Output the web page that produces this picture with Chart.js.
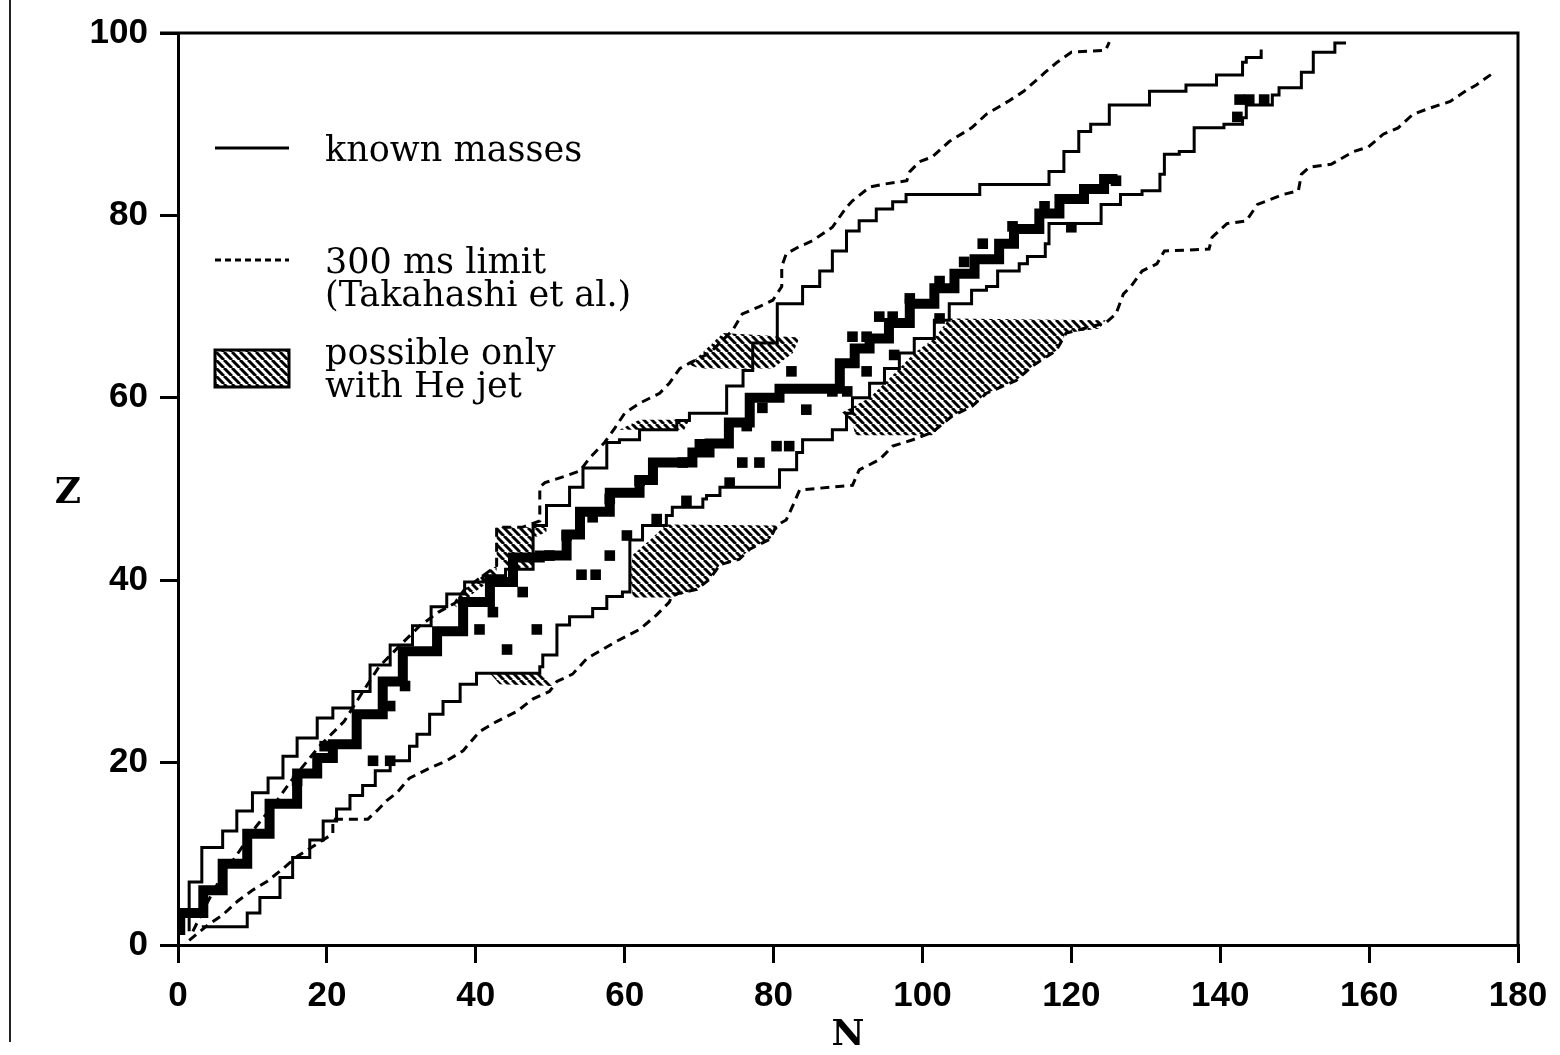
<!DOCTYPE html>
<html>
<head>
<meta charset="utf-8">
<title>Known masses, N vs Z</title>
<script src="https://cdn.jsdelivr.net/npm/chart.js@4.4.1/dist/chart.umd.min.js"></script>
<style>
  html, body { margin: 0; padding: 0; background: #fff; }
  #wrap { position: relative; width: 1560px; height: 1055px; }
  #edge { position: absolute; left: 9px; top: 0; width: 0; height: 1042px; border-left: 2px solid #222; }
  canvas { position: absolute; left: 0; top: 0; }
</style>
</head>
<body>
<div id="wrap">
  <div id="edge"></div>
  <canvas id="massChart" width="1560" height="1055"></canvas>
</div>
<script>
// Axis ticks
const nTicks = [0, 20, 40, 60, 80, 100, 120, 140, 160, 180];
const zTicks = [0, 20, 40, 60, 80, 100];

// Known masses, proton-rich side (solid)
const knownUpperN = [1.5, 3.2, 6.0, 7.9, 10.0, 12.1, 14.1, 16.0, 18.7, 20.8, 23.5, 25.8, 28.5, 31.5, 34.0, 36.1, 38.5, 41.0, 44.0, 47.7, 47.7, 49.5, 52.6, 54.4, 57.6, 59.3, 62.0, 67.0, 68.7, 73.7, 75.9, 77.2, 80.5, 83.9, 86.2, 87.9, 89.8, 91.5, 93.8, 96.0, 97.8, 107.7, 117.0, 119.0, 121.0, 122.6, 125.1, 125.1, 130.5, 135.4, 139.5, 139.5, 143.0, 143.5, 145.5, 145.5];
const knownUpperZ = [1.5, 6.9, 10.7, 12.5, 14.7, 16.7, 18.3, 20.7, 22.7, 24.9, 26.0, 27.8, 30.7, 32.9, 35.0, 37.1, 38.5, 39.8, 40.5, 41.2, 44.2, 46.0, 48.2, 50.2, 52.3, 55.1, 55.4, 56.5, 57.5, 58.3, 61.3, 63.0, 66.0, 70.3, 72.2, 73.9, 76.1, 78.3, 79.4, 80.7, 81.5, 82.3, 83.4, 84.8, 87.0, 89.2, 90.0, 91.1, 92.1, 93.6, 94.3, 95.2, 95.4, 96.8, 97.3, 98.2];

// Known masses, neutron-rich side (solid)
const knownLowerN = [3.4, 9.3, 11.0, 13.7, 15.4, 17.7, 19.5, 21.3, 23.1, 24.8, 26.5, 28.5, 31.1, 32.1, 33.8, 35.6, 37.9, 40.1, 41.9, 48.6, 49.0, 50.9, 50.9, 52.6, 55.7, 57.6, 59.7, 60.7, 60.7, 62.4, 65.6, 66.4, 70.5, 71.0, 72.8, 80.8, 83.1, 83.9, 87.9, 89.8, 90.6, 92.9, 94.9, 96.9, 98.9, 101.6, 103.6, 106.6, 108.6, 110.1, 113.0, 114.1, 116.5, 117.0, 120.5, 124.0, 126.6, 129.5, 131.9, 132.5, 134.5, 136.5, 140.5, 143.0, 143.5, 147.0, 147.9, 150.9, 152.5, 155.4, 156.9];
const knownLowerZ = [1.9, 2.0, 3.5, 5.2, 7.4, 9.6, 11.5, 13.6, 14.9, 16.4, 17.5, 19.1, 20.2, 21.8, 23.1, 25.3, 26.7, 28.6, 29.8, 29.8, 30.5, 31.8, 33.3, 35.1, 36.0, 36.9, 38.2, 38.7, 43.1, 44.4, 46.0, 47.1, 48.0, 48.9, 49.3, 50.2, 52.1, 54.0, 55.4, 56.5, 58.3, 60.0, 61.6, 63.2, 64.9, 66.5, 68.5, 70.3, 71.8, 72.2, 73.9, 74.7, 75.5, 76.9, 79.1, 79.1, 81.2, 82.3, 82.7, 84.5, 86.7, 87.0, 89.6, 90.0, 90.7, 92.1, 93.2, 94.0, 95.7, 97.9, 98.9];

// 300 ms limit (Takahashi et al.), proton-rich side (dashed)
const limitUpperN = [2, 3.5, 5.5, 8, 10.5, 13, 15.2, 17, 19, 22.3, 25, 27, 30, 32.5, 35, 37.2, 38.5, 40.5, 42.8, 42.8, 46.2, 48.6, 48.6, 49.3, 52, 54, 55.3, 57.3, 58.7, 60, 62, 64.7, 66, 67.4, 68.7, 71.4, 74.5, 75.8, 78.1, 79.9, 81.1, 81.1, 81.7, 83.5, 85.2, 87.9, 89.8, 90.6, 92.9, 94.6, 97.9, 98.3, 99.6, 101.3, 103.6, 106.6, 108.6, 111.5, 113.6, 116.5, 118.1, 120, 124.6, 125.1];
const limitUpperZ = [1.5, 4, 7, 10, 13, 15.5, 18, 19.8, 21.8, 24.5, 28, 30.5, 33, 35, 36.5, 37.5, 39, 40.2, 41.6, 45.8, 45.8, 46.5, 50.2, 50.7, 51.4, 52, 53.4, 55.1, 56.7, 58.3, 59.4, 60.5, 61.6, 63.2, 63.8, 64.9, 67.4, 69.2, 70, 70.7, 72.2, 74.4, 75.8, 76.6, 77.2, 78.7, 80.9, 81.6, 83.1, 83.4, 83.8, 84.8, 85.9, 86.4, 88.1, 89.6, 91.1, 92.5, 93.6, 95.7, 96.8, 97.9, 98.1, 99];

// 300 ms limit, neutron-rich side (dashed)
const limitLowerN = [1.5, 4, 6, 8, 10, 12, 14, 16, 18.5, 20.8, 20.8, 25.5, 26.7, 28, 29.4, 31.1, 33.8, 36.1, 38.3, 40.5, 42.8, 45.5, 47.7, 49.9, 50.9, 53, 54.9, 56.6, 58.9, 62, 64.3, 66, 66.4, 69.7, 71.4, 72.8, 75.4, 76.8, 79.5, 80.4, 81.7, 82.6, 83.5, 90.6, 91.5, 94.2, 96, 98.7, 101.3, 104, 106.7, 108.6, 112.6, 114.8, 118, 119.3, 124.6, 126, 127, 128, 129.5, 131.5, 132.5, 138.5, 138.9, 140.9, 143.5, 145, 148.5, 150.5, 150.9, 152, 154.9, 157.9, 159.9, 161.9, 163.9, 165.9, 168.3, 170.9, 172.9, 174.4, 176.8];
const limitLowerZ = [0.5, 2.2, 3.3, 4.8, 6, 7, 8.3, 9.7, 11, 12.2, 13.8, 13.8, 14.7, 15.8, 16.7, 18.3, 19.4, 20.2, 21.3, 23.4, 24.5, 25.6, 27, 27.8, 28.9, 29.7, 31.4, 32.2, 33.3, 34.6, 36.2, 37.6, 38.4, 39, 40.1, 41.7, 42.3, 43.4, 44.5, 46, 46.6, 48.2, 49.9, 50.4, 52.1, 53.2, 54.7, 55.4, 56.2, 58, 59.1, 60.5, 61.9, 63.5, 65.2, 67.1, 68.2, 69.2, 71.4, 72.2, 73.9, 74.7, 76.1, 76.3, 77.6, 79.1, 79.4, 81.2, 82.3, 82.7, 84.5, 85.3, 85.6, 87, 87.5, 88.9, 89.6, 91.1, 91.8, 92.5, 93.6, 94.3, 95.7];

// Line of stable nuclei (thick)
const stableN = [0.3, 3.4, 6, 9.3, 12.3, 16, 18.7, 20.8, 24, 27.5, 30.2, 34.8, 38.3, 41.9, 45, 48.6, 52.2, 54, 58, 62, 63.8, 69.1, 71.4, 74, 76.8, 80.8, 83.5, 88.9, 90.9, 92.9, 95.5, 98.3, 101.6, 104.3, 107, 110.3, 112.3, 115.7, 118.4, 121.7, 124.4, 126.2];
const stableZ = [1.1, 3.5, 6, 8.9, 12.2, 15.5, 18.8, 20.5, 22, 25.3, 28.9, 32.2, 34.4, 37.6, 39.8, 42.5, 42.7, 45, 47.5, 49.6, 51, 52.9, 54, 55, 57.3, 60, 61, 61, 63.8, 65.4, 66.5, 68.2, 70.3, 72, 73.6, 75.2, 76.9, 78.5, 80.2, 81.8, 82.9, 84];

// Isolated nuclei (squares)
const dotN = [16.0, 19.7, 26.2, 28.5, 28.5, 30.5, 40.5, 42.3, 44.2, 46.3, 48.2, 49.9, 52.2, 54.2, 56.1, 58.0, 60.3, 55.7, 58.0, 62.0, 64.3, 68.3, 67.8, 70.1, 74.1, 75.8, 78.1, 80.4, 82.1, 76.4, 78.5, 84.4, 82.4, 87.9, 89.9, 92.5, 90.6, 92.5, 96.2, 94.2, 96.0, 98.3, 102.3, 102.3, 105.6, 108.1, 112.1, 116.4, 120.0, 126.0, 142.6, 143.9, 145.9, 142.3];
const dotZ = [18.0, 21.8, 20.2, 20.2, 26.2, 28.4, 34.6, 36.5, 32.4, 38.7, 34.6, 42.7, 44.9, 40.6, 40.6, 42.7, 44.9, 46.9, 48.9, 50.9, 46.7, 48.7, 52.9, 54.9, 50.7, 52.9, 52.9, 54.7, 54.7, 56.9, 58.9, 58.7, 62.9, 60.7, 60.7, 62.9, 66.7, 66.7, 64.7, 68.9, 68.9, 70.9, 68.7, 72.8, 74.9, 76.9, 78.8, 81.0, 78.7, 83.8, 92.7, 92.7, 92.7, 90.8];

// Regions possible only with He jet (hatched)
const jetA_N = [68.7, 73.2, 83.5, 82.6, 79.9, 70.1];
const jetA_Z = [63.6, 67.1, 66.6, 64.9, 63.2, 63.2];
const jetB_N = [59.3, 62.0, 68.7, 68.0];
const jetB_Z = [56.5, 57.6, 57.6, 56.5];
const jetC_N = [42.8, 47.7, 49.5, 49.5, 47.7, 47.7, 44.5, 42.8];
const jetC_Z = [45.8, 45.8, 46.3, 45.3, 44.6, 41.2, 41.2, 42.5];
const jetD_N = [36.8, 38.5, 42.8, 42.8, 40.0, 37.5];
const jetD_Z = [37.4, 39.0, 41.6, 40.4, 38.8, 37.0];
const jetE_N = [41.9, 48.6, 50.3, 43.2];
const jetE_Z = [29.8, 29.8, 28.4, 28.6];
const jetF_N = [65.6, 80.8, 79.5, 76.8, 75.4, 72.8, 71.4, 69.7, 66.4, 61.1, 60.7, 61.1, 63.4];
const jetF_Z = [46.1, 46.0, 44.5, 43.4, 42.3, 41.7, 40.1, 39.0, 38.1, 38.1, 40.5, 42.8, 44.4];
const jetG_N = [103.6, 124.6, 123.8, 119.3, 118, 114.8, 112.6, 108.6, 106.7, 104, 101.3, 91, 90.6, 89, 90.6, 92.9, 94.9, 96.9, 98.9, 101.6];
const jetG_Z = [68.7, 68.5, 67.6, 67.1, 65.2, 63.5, 61.9, 60.5, 59.1, 58, 55.9, 55.9, 57.2, 58.3, 59, 60, 61.6, 63.2, 64.9, 66.5];

const jetShapes = [[jetA_N, jetA_Z], [jetB_N, jetB_Z], [jetC_N, jetC_Z], [jetD_N, jetD_Z],
                   [jetE_N, jetE_Z], [jetF_N, jetF_Z], [jetG_N, jetG_Z]];

const INK = '#000';
const tickFont = { family: "'Liberation Sans', Arial, sans-serif", size: 35, weight: 'bold' };
const textFont = "35px 'DejaVu Serif', serif";

function pts(ns, zs) {
    return ns.map((n, i) => ({ x: n, y: zs[i] }));
}

// diagonal hatch, like the legend box
function makeHatch(ctx) {
    const s = 8;
    const tile = document.createElement('canvas');
    tile.width = tile.height = s;
    const g = tile.getContext('2d');
    g.strokeStyle = INK;
    g.lineWidth = 3;
    for (const o of [-s, 0, s]) {
        g.beginPath();
        g.moveTo(o, 0);
        g.lineTo(o + s, s);
        g.stroke();
    }
    return ctx.createPattern(tile, 'repeat');
}

// hatched areas under the lines
const hatchPlugin = {
    id: 'hatch',
    beforeDatasetsDraw(chart) {
        const { ctx, scales: { x, y } } = chart;
        ctx.save();
        ctx.fillStyle = makeHatch(ctx);
        jetShapes.forEach(([ns, zs]) => {
            ctx.beginPath();
            ns.forEach((n, i) => {
                const px = x.getPixelForValue(n);
                const py = y.getPixelForValue(zs[i]);
                if (i === 0) ctx.moveTo(px, py); else ctx.lineTo(px, py);
            });
            ctx.closePath();
            ctx.fill();
        });
        ctx.restore();
    }
};

// frame, axis titles and the legend box
const framePlugin = {
    id: 'frame',
    afterDraw(chart) {
        const { ctx, chartArea: a } = chart;
        ctx.save();
        ctx.strokeStyle = INK;
        ctx.lineWidth = 3;
        ctx.beginPath();
        ctx.moveTo(a.left - 18, a.top);
        ctx.lineTo(a.right, a.top);
        ctx.lineTo(a.right, a.bottom);
        ctx.stroke();

        ctx.fillStyle = INK;
        ctx.font = "bold 36px 'DejaVu Serif', serif";
        ctx.textAlign = 'center';
        ctx.textBaseline = 'alphabetic';
        ctx.fillText('Z', 68, 503);
        ctx.fillText('N', (a.left + a.right) / 2, 1045);

        // legend
        const lx = a.left + 37, tx = a.left + 147;
        ctx.lineWidth = 3;
        ctx.beginPath();
        ctx.moveTo(lx, a.top + 115);
        ctx.lineTo(lx + 74, a.top + 115);
        ctx.stroke();

        ctx.setLineDash([6, 4]);
        ctx.beginPath();
        ctx.moveTo(lx, a.top + 227);
        ctx.lineTo(lx + 74, a.top + 227);
        ctx.stroke();
        ctx.setLineDash([]);

        ctx.fillStyle = makeHatch(ctx);
        ctx.fillRect(lx, a.top + 317, 74, 37);
        ctx.strokeRect(lx, a.top + 317, 74, 37);

        ctx.fillStyle = INK;
        ctx.font = textFont;
        ctx.textAlign = 'left';
        ctx.fillText('known masses', tx, a.top + 128);
        ctx.fillText('300 ms limit', tx, a.top + 240);
        ctx.fillText('(Takahashi et al.)', tx, a.top + 273);
        ctx.fillText('possible only', tx, a.top + 331);
        ctx.fillText('with He jet', tx, a.top + 364);
        ctx.restore();
    }
};

function lineSet(ns, zs, width, dash, stepped) {
    return {
        data: pts(ns, zs),
        showLine: true,
        borderColor: INK,
        borderWidth: width,
        borderDash: dash,
        stepped: stepped,
        borderJoinStyle: 'miter',
        borderCapStyle: 'butt',
        pointRadius: 0,
        fill: false
    };
}

const ctx = document.getElementById('massChart');
new Chart(ctx, {
    type: 'scatter',
    data: {
        datasets: [
            lineSet(limitUpperN, limitUpperZ, 3, [9, 6], false),
            lineSet(limitLowerN, limitLowerZ, 3, [9, 6], false),
            lineSet(knownUpperN, knownUpperZ, 3, [], 'after'),
            lineSet(knownLowerN, knownLowerZ, 3, [], 'after'),
            lineSet(stableN, stableZ, 10, [], 'after'),
            {
                data: pts(dotN, dotZ),
                pointStyle: 'rect',
                pointRadius: 7.5,
                backgroundColor: INK,
                borderColor: INK,
                borderWidth: 0,
                showLine: false
            }
        ]
    },
    options: {
        responsive: false,
        animation: false,
        devicePixelRatio: 1,
        layout: { padding: { left: 0, right: 42, top: 28, bottom: 0 } },
        scales: {
            x: {
                type: 'linear', min: 0, max: 180,
                afterFit(axis) { axis.height = 110; },
                afterBuildTicks(axis) { axis.ticks = nTicks.map(v => ({ value: v })); },
                ticks: { color: INK, font: tickFont, padding: 12, maxRotation: 0 },
                grid: { drawOnChartArea: false, drawTicks: true, tickLength: 18, lineWidth: 3, color: INK },
                border: { display: true, width: 3, color: INK }
            },
            y: {
                type: 'linear', min: 0, max: 100,
                afterFit(axis) { axis.width = 178; },
                afterBuildTicks(axis) { axis.ticks = zTicks.map(v => ({ value: v })); },
                ticks: { color: INK, font: tickFont, padding: 12 },
                grid: { drawOnChartArea: false, drawTicks: true, tickLength: 18, lineWidth: 3, color: INK },
                border: { display: true, width: 3, color: INK }
            }
        },
        plugins: {
            legend: { display: false },
            tooltip: { enabled: false }
        }
    },
    plugins: [hatchPlugin, framePlugin]
});
</script>
</body>
</html>
